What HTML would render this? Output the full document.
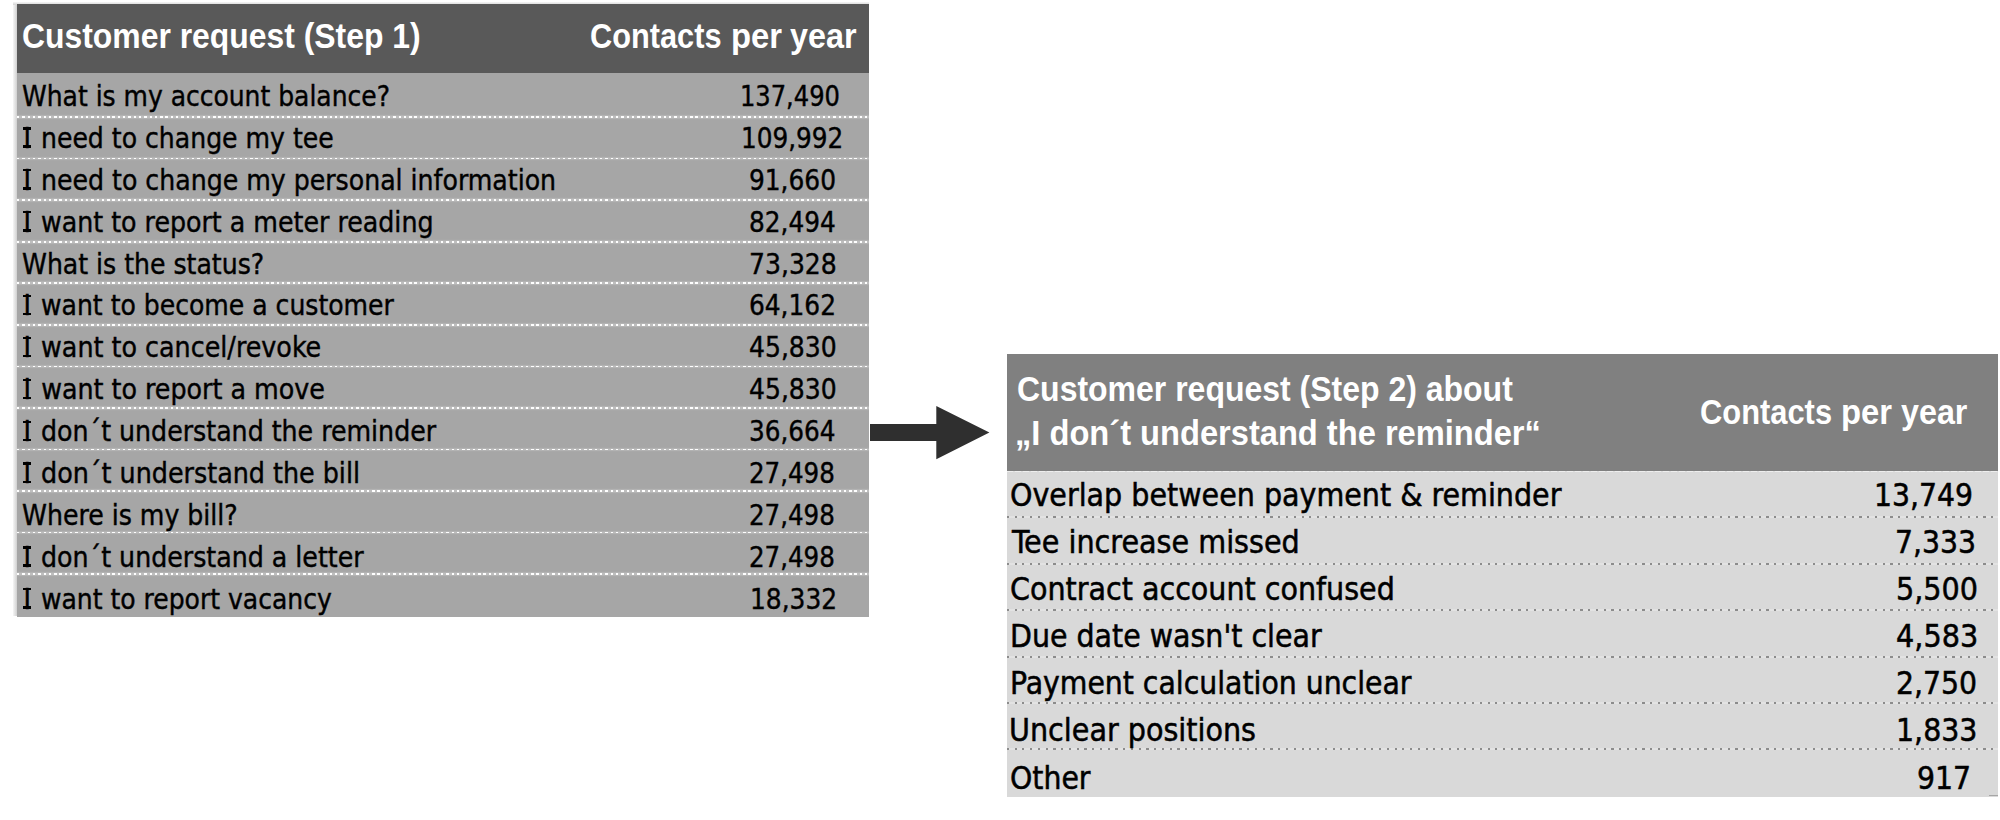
<!DOCTYPE html>
<html lang="en"><head><meta charset="utf-8"><title>Customer requests</title>
<style>
html,body{margin:0;padding:0;background:#fff;}
body{width:2000px;height:820px;position:relative;overflow:hidden;}
.t{position:absolute;white-space:pre;line-height:50px;height:50px;transform-origin:0 0;display:block;}
.box{position:absolute;}
.ln1{position:absolute;left:16.8px;width:851.9px;height:1.7px;background:repeating-linear-gradient(to right,#fff 0 2.4px,rgba(255,255,255,.28) 2.4px 5.3px);box-shadow:0 0 1.5px 0.5px rgba(255,255,255,.3);}
.ln2{position:absolute;left:1007.3px;width:991px;height:2px;background:repeating-linear-gradient(to right,#8c8c8c 0 2px,rgba(255,255,255,.25) 2px 7.75px);}
.I i{position:absolute;left:0;width:100%;height:2.3px;background:#000;}
.I{text-align:center}
.I .s1{top:13.44px}
.I .s2{top:31.70px}
.b1{font-family:'DejaVu Sans Condensed', 'DejaVu Sans', 'Liberation Sans', sans-serif;font-size:28.2px;color:#000;-webkit-text-stroke:0.4px #000;}
.b2{font-family:'DejaVu Sans Condensed', 'DejaVu Sans', 'Liberation Sans', sans-serif;font-size:32.0px;color:#000;-webkit-text-stroke:0.5px #000;}
.hd{font-family:'Liberation Sans', 'DejaVu Sans', sans-serif;font-size:34.2px;font-weight:bold;color:#fff;}
</style></head>
<body>
<div class="box" style="left:13.2px;top:2.2px;width:4px;height:614.3px;background:linear-gradient(to right,#f6f6f6,#d0d0d0)"></div>
<div class="box" style="left:13.2px;top:2.2px;width:855.5px;height:2.4px;background:linear-gradient(to bottom,#f6f6f6,#d4d4d4)"></div>
<div class="box" style="left:16.8px;top:60px;width:851.9px;height:556.5px;background:#a6a6a6"></div>
<div class="box" style="left:16.8px;top:4.3px;width:851.9px;height:69.2px;background:#595959"></div>

<div class="ln1" style="top:116.25px"></div>
<div class="ln1" style="top:157.80px"></div>
<div class="ln1" style="top:199.35px"></div>
<div class="ln1" style="top:240.90px"></div>
<div class="ln1" style="top:282.45px"></div>
<div class="ln1" style="top:324.00px"></div>
<div class="ln1" style="top:365.55px"></div>
<div class="ln1" style="top:407.10px"></div>
<div class="ln1" style="top:448.65px"></div>
<div class="ln1" style="top:490.20px"></div>
<div class="ln1" style="top:531.75px"></div>
<div class="ln1" style="top:573.30px"></div>
<svg class="box" style="left:0;top:0" width="2000" height="820" viewBox="0 0 2000 820"><polygon points="870,423.9 936.3,423.9 936.3,406 989.4,432.5 936.3,459.3 936.3,441 870,441" fill="#2f2f2f"/></svg>
<div class="box" style="left:1007.3px;top:460px;width:991px;height:337px;background:#d9d9d9"></div>
<div class="box" style="left:1007.3px;top:354.3px;width:991px;height:116.6px;background:#808080"></div>
<div class="box" style="left:1007.3px;top:470.6px;width:991px;height:1px;background:repeating-linear-gradient(to right,rgba(255,255,255,.55) 0 6px,rgba(255,255,255,.15) 6px 8px)"></div>
<div class="ln2" style="top:516.40px"></div>
<div class="ln2" style="top:562.80px"></div>
<div class="ln2" style="top:609.30px"></div>
<div class="ln2" style="top:655.50px"></div>
<div class="ln2" style="top:701.80px"></div>
<div class="ln2" style="top:748.40px"></div>
<div class="box" style="left:1988.5px;top:795.2px;width:9.5px;height:1.3px;background:#a6a6a6"></div>

<div class="r1">
<span class="t b1" style="left:22.40px;top:72.00px;transform:scaleX(0.9860)">What is my account balance?</span>
<span class="t b1" style="left:740.49px;top:72.00px;transform:scaleX(0.9529)">137,490</span>
</div>
<div class="r1">
<span class="t b1 I" style="left:22.80px;top:113.80px;width:8.70px">I<i class="s1"></i><i class="s2"></i></span>
<span class="t b1" style="left:32.59px;top:113.80px;transform:scaleX(0.9915)"> need to change my tee</span>
<span class="t b1" style="left:740.85px;top:113.80px;transform:scaleX(0.9752)">109,992</span>
</div>
<div class="r1">
<span class="t b1 I" style="left:22.80px;top:155.70px;width:8.70px">I<i class="s1"></i><i class="s2"></i></span>
<span class="t b1" style="left:32.56px;top:155.70px;transform:scaleX(0.9944)"> need to change my personal information</span>
<span class="t b1" style="left:749.02px;top:155.70px;transform:scaleX(0.9802)">91,660</span>
</div>
<div class="r1">
<span class="t b1 I" style="left:22.80px;top:197.60px;width:8.70px">I<i class="s1"></i><i class="s2"></i></span>
<span class="t b1" style="left:33.12px;top:197.60px;transform:scaleX(0.9974)"> want to report a meter reading</span>
<span class="t b1" style="left:749.02px;top:197.60px;transform:scaleX(0.9770)">82,494</span>
</div>
<div class="r1">
<span class="t b1" style="left:22.40px;top:239.50px;transform:scaleX(0.9922)">What is the status?</span>
<span class="t b1" style="left:748.92px;top:239.50px;transform:scaleX(0.9894)">73,328</span>
</div>
<div class="r1">
<span class="t b1 I" style="left:22.80px;top:281.40px;width:8.70px">I<i class="s1"></i><i class="s2"></i></span>
<span class="t b1" style="left:33.19px;top:281.40px;transform:scaleX(0.9902)"> want to become a customer</span>
<span class="t b1" style="left:749.02px;top:281.40px;transform:scaleX(0.9802)">64,162</span>
</div>
<div class="r1">
<span class="t b1 I" style="left:22.80px;top:323.30px;width:8.70px">I<i class="s1"></i><i class="s2"></i></span>
<span class="t b1" style="left:33.09px;top:323.30px;transform:scaleX(1.0014)"> want to cancel/revoke</span>
<span class="t b1" style="left:748.81px;top:323.30px;transform:scaleX(0.9884)">45,830</span>
</div>
<div class="r1">
<span class="t b1 I" style="left:22.80px;top:365.20px;width:8.70px">I<i class="s1"></i><i class="s2"></i></span>
<span class="t b1" style="left:33.10px;top:365.20px;transform:scaleX(1.0000)"> want to report a move</span>
<span class="t b1" style="left:748.81px;top:365.20px;transform:scaleX(0.9884)">45,830</span>
</div>
<div class="r1">
<span class="t b1 I" style="left:22.80px;top:407.10px;width:8.70px">I<i class="s1"></i><i class="s2"></i></span>
<span class="t b1" style="left:33.13px;top:407.10px;transform:scaleX(0.9962)"> don´t understand the reminder</span>
<span class="t b1" style="left:749.23px;top:407.10px;transform:scaleX(0.9747)">36,664</span>
</div>
<div class="r1">
<span class="t b1 I" style="left:22.80px;top:449.00px;width:8.70px">I<i class="s1"></i><i class="s2"></i></span>
<span class="t b1" style="left:33.09px;top:449.00px;transform:scaleX(1.0016)"> don´t understand the bill</span>
<span class="t b1" style="left:749.23px;top:449.00px;transform:scaleX(0.9674)">27,498</span>
</div>
<div class="r1">
<span class="t b1" style="left:22.40px;top:490.90px;transform:scaleX(0.9940)">Where is my bill?</span>
<span class="t b1" style="left:749.23px;top:490.90px;transform:scaleX(0.9674)">27,498</span>
</div>
<div class="r1">
<span class="t b1 I" style="left:22.80px;top:532.80px;width:8.70px">I<i class="s1"></i><i class="s2"></i></span>
<span class="t b1" style="left:33.13px;top:532.80px;transform:scaleX(0.9966)"> don´t understand a letter</span>
<span class="t b1" style="left:749.23px;top:532.80px;transform:scaleX(0.9674)">27,498</span>
</div>
<div class="r1">
<span class="t b1 I" style="left:22.80px;top:574.70px;width:8.70px">I<i class="s1"></i><i class="s2"></i></span>
<span class="t b1" style="left:33.21px;top:574.70px;transform:scaleX(0.9881)"> want to report vacancy</span>
<span class="t b1" style="left:749.54px;top:574.70px;transform:scaleX(0.9824)">18,332</span>
</div>
<div class="r2">
<span class="t b2" style="left:1010.11px;top:469.60px;transform:scaleX(0.9919)">Overlap between payment &amp; reminder</span>
<span class="t b2" style="left:1873.95px;top:469.60px;transform:scaleX(0.9823)">13,749</span>
</div>
<div class="r2">
<span class="t b2" style="left:1012.00px;top:516.90px;transform:scaleX(0.9951)">Tee increase missed</span>
<span class="t b2" style="left:1895.03px;top:516.90px;transform:scaleX(0.9833)">7,333</span>
</div>
<div class="r2">
<span class="t b2" style="left:1010.01px;top:563.60px;transform:scaleX(0.9922)">Contract account confused</span>
<span class="t b2" style="left:1895.61px;top:563.60px;transform:scaleX(0.9962)">5,500</span>
</div>
<div class="r2">
<span class="t b2" style="left:1010.02px;top:610.80px;transform:scaleX(0.9889)">Due date wasn't clear</span>
<span class="t b2" style="left:1895.60px;top:610.80px;transform:scaleX(0.9975)">4,583</span>
</div>
<div class="r2">
<span class="t b2" style="left:1010.03px;top:658.00px;transform:scaleX(0.9840)">Payment calculation unclear</span>
<span class="t b2" style="left:1895.63px;top:658.00px;transform:scaleX(0.9848)">2,750</span>
</div>
<div class="r2">
<span class="t b2" style="left:1009.41px;top:705.30px;transform:scaleX(0.9939)">Unclear positions</span>
<span class="t b2" style="left:1896.34px;top:705.30px;transform:scaleX(0.9883)">1,833</span>
</div>
<div class="r2">
<span class="t b2" style="left:1010.11px;top:753.10px;transform:scaleX(0.9852)">Other</span>
<span class="t b2" style="left:1916.62px;top:753.10px;transform:scaleX(0.9846)">917</span>
</div>
<div class="h">
<span class="t hd hd1" style="left:22.37px;top:10.50px;transform:scaleX(0.9325)">Customer request (Step 1)</span>
<span class="t hd hd1" style="left:590.00px;top:10.50px;transform:scaleX(0.8993)">Contacts </span>
<span class="t hd hd1" style="left:730.78px;top:10.50px;transform:scaleX(0.9588)">per </span>
<span class="t hd hd1" style="left:790.10px;top:10.50px;transform:scaleX(0.9457)">year</span>
</div>
<div class="h">
<span class="t hd hd2" style="left:1016.66px;top:364.00px;transform:scaleX(0.9355)">Customer request (Step 2) about</span>
<span class="t hd hd2" style="left:1014.89px;top:407.50px;transform:scaleX(0.9547)">„I don´t understand the reminder“</span>
<span class="t hd hd2" style="left:1700.40px;top:387.30px;transform:scaleX(0.9028)">Contacts </span>
<span class="t hd hd2" style="left:1840.78px;top:387.30px;transform:scaleX(0.9588)">per </span>
<span class="t hd hd2" style="left:1900.60px;top:387.30px;transform:scaleX(0.9443)">year</span>
</div>
</body></html>
